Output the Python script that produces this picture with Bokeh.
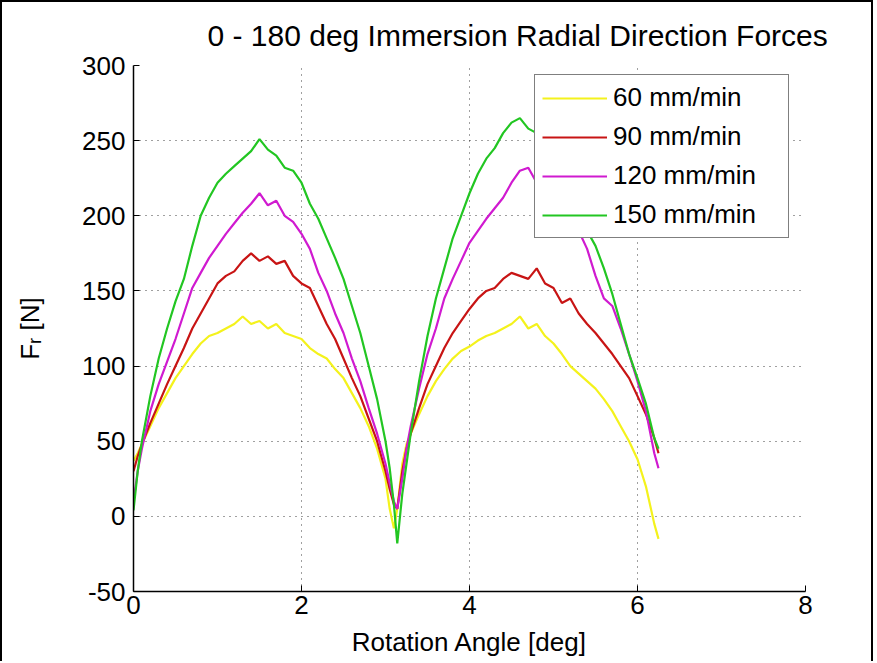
from bokeh.plotting import figure
from bokeh.models import Range1d, FixedTicker, Legend, LegendItem
from bokeh.embed import file_html
from bokeh.resources import INLINE

# Rotation angle of the cutter (two full 0-180 deg immersion passes)
angles = [0.0, 0.05, 0.1, 0.2, 0.3, 0.4, 0.5, 0.6, 0.7, 0.8, 0.9, 1.0, 1.1, 1.2,
          1.3, 1.4, 1.5, 1.6, 1.7, 1.8, 1.9, 2.0, 2.1, 2.2, 2.3, 2.4, 2.5, 2.6,
          2.7, 2.8, 2.9, 3.0, 3.05, 3.1, 3.14, 3.2, 3.25, 3.3, 3.4, 3.5, 3.6,
          3.7, 3.8, 3.9, 4.0, 4.1, 4.2, 4.3, 4.4, 4.5, 4.6, 4.7, 4.8, 4.9, 5.0,
          5.1, 5.2, 5.3, 5.4, 5.5, 5.6, 5.7, 5.8, 5.9, 6.0, 6.1, 6.2, 6.25]

# Radial force F_r [N] for each feed rate
force_60 = [37, 42, 48, 60, 72, 82, 92, 100, 108, 115, 120, 122, 125, 128,
            133, 128, 130, 125, 128, 122, 120, 118, 112, 108, 105, 98, 92, 82,
            72, 60, 45, 25, 5, -8, 5, 35, 48, 55, 68, 80, 90,
            98, 105, 110, 113, 117, 120, 122, 125, 128, 133, 125, 128, 120, 115,
            108, 100, 95, 90, 85, 78, 70, 60, 50, 38, 20, -5, -15]

force_90 = [30, 40, 48, 62, 75, 88, 100, 112, 125, 135, 145, 155, 160, 163,
            170, 175, 170, 173, 168, 170, 160, 155, 152, 140, 128, 118, 105, 92,
            80, 65, 50, 30, 18, 8, 5, 30, 45, 55, 72, 88, 100,
            112, 122, 130, 138, 145, 150, 152, 158, 162, 160, 158, 165, 155, 152,
            142, 145, 135, 128, 122, 115, 108, 100, 92, 80, 68, 52, 42]

force_120 = [10, 30, 45, 70, 88, 103, 118, 135, 152, 162, 172, 180, 188, 195,
             202, 208, 215, 207, 210, 200, 196, 188, 178, 162, 150, 135, 122, 105,
             90, 72, 55, 35, 22, 10, 5, 25, 45, 60, 85, 108, 125,
             145, 158, 170, 182, 190, 198, 205, 212, 222, 230, 232, 222, 218, 212,
             208, 205, 190, 178, 160, 145, 140, 125, 108, 90, 70, 42, 32]

force_150 = [4, 30, 50, 80, 105, 125, 143, 158, 180, 200, 212, 222, 228, 233,
             238, 243, 251, 244, 240, 232, 230, 222, 208, 198, 185, 172, 158, 140,
             122, 100, 78, 50, 32, 8, -18, 15, 35, 55, 90, 120, 145,
             165, 185, 200, 215, 228, 238, 245, 255, 262, 265, 258, 255, 250, 240,
             232, 220, 205, 190, 180, 165, 148, 128, 108, 92, 75, 52, 45]

feed_labels = ["60 mm/min", "90 mm/min", "120 mm/min", "150 mm/min"]
line_colors = ["#f4f21c", "#c81414", "#d01ad0", "#22c622"]

x_ticks = [0, 2, 4, 6, 8]
x_tick_labels = ["0", "2", "4", "6", "8"]
y_ticks = [-50, 0, 50, 100, 150, 200, 250, 300]
y_tick_labels = ["-50", "0", "50", "100", "150", "200", "250", "300"]

FONT = "Liberation Sans"

p = figure(width=873, height=661, output_backend="svg", toolbar_location=None,
           x_range=Range1d(0, 8), y_range=Range1d(-50, 300),
           min_border_left=131, min_border_right=70,
           min_border_top=63, min_border_bottom=72,
           background_fill_color="white", border_fill_color="white")
p.styles = {"border-left": "2px solid black", "border-top": "2px solid black",
            "border-right": "2px solid black"}
p.outline_line_color = None

p.title.text = "0 - 180 deg Immersion Radial Direction Forces"
p.title.text_font = FONT
p.title.text_font_size = "30px"
p.title.text_font_style = "normal"
p.title.text_color = "black"
p.title.align = "left"
p.title.offset = 74
p.title.standoff = 27

for axis, ticks, labels in ((p.xaxis[0], x_ticks, x_tick_labels),
                            (p.yaxis[0], y_ticks, y_tick_labels)):
    axis.ticker = FixedTicker(ticks=ticks)
    axis.major_label_overrides = {t: s for t, s in zip(ticks, labels)}
    axis.major_label_text_font = FONT
    axis.major_label_text_font_size = "26px"
    axis.major_label_text_color = "black"
    axis.axis_line_color = "black"
    axis.axis_line_width = 1.5
    axis.major_tick_line_color = "black"
    axis.major_tick_in = 6
    axis.major_tick_out = 0
    axis.minor_tick_line_color = None
    axis.axis_label_text_font = FONT
    axis.axis_label_text_font_size = "26px"
    axis.axis_label_text_font_style = "normal"
    axis.axis_label_text_color = "black"

p.xaxis.axis_label = "Rotation Angle [deg]"
p.xaxis.major_label_standoff = 4
p.xaxis.axis_label_standoff = 10
p.yaxis.axis_label = "F\u1d63 [N]"
p.yaxis.major_label_standoff = 8
p.yaxis.axis_label_standoff = 34

for g in (p.xgrid, p.ygrid):
    g.grid_line_color = "black"
    g.grid_line_alpha = 0.75
    g.grid_line_dash = "1 5"
    g.grid_line_width = 1

items = []
for name, values, color in zip(feed_labels, [force_60, force_90, force_120, force_150], line_colors):
    r = p.line(angles, values, line_color=color, line_width=2.2)
    items.append(LegendItem(label=name, renderers=[r]))

legend = Legend(items=items, location=(401, 353))
legend.border_line_color = "black"
legend.border_line_width = 1.2
legend.background_fill_color = "white"
legend.background_fill_alpha = 1.0
legend.label_text_font = FONT
legend.label_text_font_size = "26px"
legend.label_text_color = "black"
legend.glyph_width = 65
legend.glyph_height = 24
legend.label_height = 24
legend.label_width = 168
legend.label_standoff = 6
legend.spacing = 8
legend.padding = 7
legend.margin = 0
p.add_layout(legend)

open("out.html", "w").write(file_html(p, INLINE))
